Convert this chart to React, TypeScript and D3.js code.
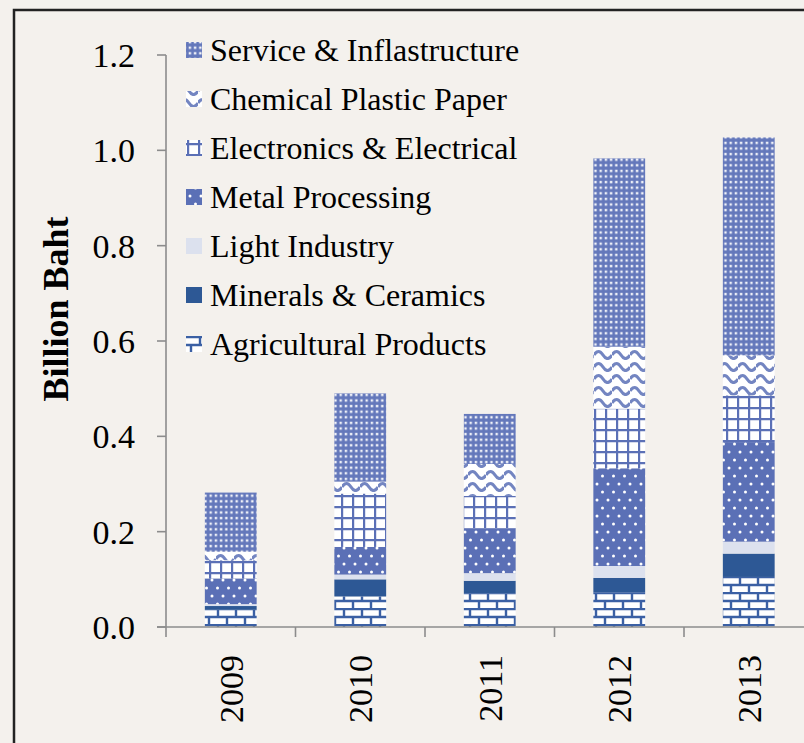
import * as d3 from "d3";

// Chart values (Billion Baht)
const years = ["2009", "2010", "2011", "2012", "2013"];
const agricultural = [0.036, 0.064, 0.071, 0.073, 0.105];
const minerals = [0.008, 0.036, 0.026, 0.030, 0.049];
const lightIndustry = [0.004, 0.010, 0.016, 0.025, 0.025];
const metal = [0.054, 0.058, 0.094, 0.205, 0.209];
const electronics = [0.038, 0.112, 0.068, 0.125, 0.098];
const chemical = [0.018, 0.025, 0.067, 0.130, 0.084];
const service = [0.124, 0.185, 0.105, 0.395, 0.457];

const seriesNames = [
  "Agricultural Products",
  "Minerals & Ceramics",
  "Light Industry",
  "Metal Processing",
  "Electronics & Electrical",
  "Chemical Plastic Paper",
  "Service & Inflastructure",
];
const seriesValues = [agricultural, minerals, lightIndustry, metal, electronics, chemical, service];
const seriesFill = [
  "url(#pBrick)",
  "#2d5895",
  "#dce1ee",
  "url(#pMetal)",
  "url(#pGrid)",
  "url(#pWave)",
  "url(#pService)",
];
const yTicks = [0, 0.2, 0.4, 0.6, 0.8, 1.0, 1.2];

const W = 804;
const H = 743;
const BLUE = "#5b70b6";

export default function App() {
  const rows = years.map((y, i) => {
    const r: any = { year: y };
    seriesNames.forEach((n, k) => (r[n] = seriesValues[k][i]));
    return r;
  });
  const stacked = d3.stack<any>().keys(seriesNames)(rows);

  const x = d3
    .scaleBand()
    .domain(years)
    .range([166, 166 + 5 * 129.5])
    .paddingInner(0.6)
    .paddingOuter(0.3);
  const y = d3.scaleLinear().domain([0, 1.2]).range([627, 55]);
  const step = x.step();
  const x0 = 166;

  const fontFam = "'Liberation Serif', 'Times New Roman', serif";

  return (
    <svg width={W} height={H} style={{ display: "block", background: "#f4f1ed" }}>
      <style>{"body{margin:0}"}</style>
      <defs>
        <pattern id="pService" width="5.2" height="5.6" patternUnits="userSpaceOnUse">
          <rect width="5.2" height="5.6" fill="#6478bb" />
          <rect x="1.5" y="1.7" width="2.4" height="2.4" fill="#ffffff" opacity="0.9" />
        </pattern>
        <pattern id="pWave" width="18" height="12" patternUnits="userSpaceOnUse">
          <rect width="18" height="12" fill="#ffffff" />
          <path d="M0 7 Q4.5 0 9 7 T18 7" fill="none" stroke={BLUE} strokeWidth="3.2" opacity="0.85" />
        </pattern>
        <pattern id="pGrid" width="11" height="11" patternUnits="userSpaceOnUse">
          <rect width="11" height="11" fill="#ffffff" />
          <path d="M1 0V11M0 1H11" stroke={BLUE} strokeWidth="2.4" />
        </pattern>
        <pattern id="pMetal" width="11" height="16" patternUnits="userSpaceOnUse">
          <rect width="11" height="16" fill={BLUE} />
          <circle cx="3" cy="4" r="1.5" fill="#ffffff" />
          <circle cx="8.5" cy="12" r="1.5" fill="#ffffff" />
        </pattern>
        <pattern id="pBrick" width="18" height="16" patternUnits="userSpaceOnUse">
          <rect width="18" height="16" fill="#ffffff" />
          <path d="M0 1H18M0 9H18M2 1V9M11 9V16" stroke="#3b60a4" strokeWidth="2.4" />
        </pattern>
      </defs>

      {/* outer frame */}
      <rect x={14} y={10} width={W} height={H} fill="none" stroke="#222" strokeWidth={2.5} />

      {/* bars */}
      {stacked.map((s, k) => (
        <g key={s.key} fill={seriesFill[k]}>
          {s.map((d: any) => (
            <rect
              key={d.data.year}
              x={x(d.data.year)}
              y={y(d[1])}
              width={x.bandwidth()}
              height={y(d[0]) - y(d[1])}
            />
          ))}
        </g>
      ))}

      {/* axes */}
      <g stroke="#8c8c8c" strokeWidth={1.6}>
        <line x1={x0} x2={x0} y1={y(1.2)} y2={y(0)} />
        {yTicks.map((t) => (
          <line key={t} x1={x0 - 9} x2={x0} y1={y(t)} y2={y(t)} />
        ))}
        <line x1={x0 - 9} x2={W} y1={y(0)} y2={y(0)} />
        {d3.range(years.length + 1).map((i) => (
          <line key={i} x1={x0 + i * step} x2={x0 + i * step} y1={y(0)} y2={y(0) + 10} />
        ))}
      </g>
      <g fontFamily={fontFam} fontSize={34} fill="#000">
        {yTicks.map((t) => (
          <text key={t} x={135} y={y(t)} dy="0.35em" textAnchor="end">
            {t.toFixed(1)}
          </text>
        ))}
        {years.map((yr) => {
          const cx = (x(yr) as number) + x.bandwidth() / 2;
          return (
            <text
              key={yr}
              transform={`translate(${cx},655) rotate(-90)`}
              dy="0.35em"
              textAnchor="end"
            >
              {yr}
            </text>
          );
        })}
      </g>
      <text
        transform="translate(55,309) rotate(-90)"
        dy="0.35em"
        textAnchor="middle"
        fontFamily={fontFam}
        fontWeight="bold"
        fontSize={36}
      >
        Billion Baht
      </text>

      {/* legend */}
      <g fontFamily={fontFam} fontSize={32}>
        {seriesNames
          .map((n, k) => ({ n, k }))
          .reverse()
          .map(({ n, k }, i) => {
            const ly = 50 + i * 49;
            return (
              <g key={n}>
                <rect x={186} y={ly - 8} width={16} height={16} fill={seriesFill[k]} />
                <text x={210} y={ly} dy="0.35em">
                  {n}
                </text>
              </g>
            );
          })}
      </g>
    </svg>
  );
}
